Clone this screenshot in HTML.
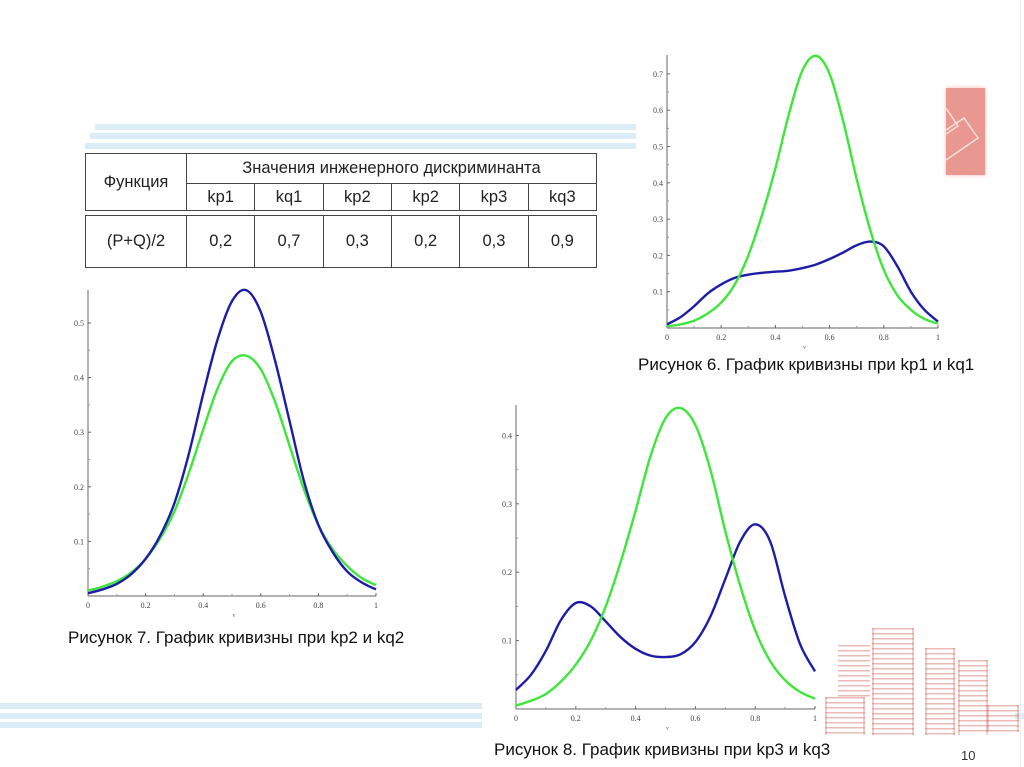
<!DOCTYPE html>
<html><head><meta charset="utf-8">
<style>
body{margin:0;width:1024px;height:767px;background:#fff;position:relative;overflow:hidden;font-family:"Liberation Sans",sans-serif;}
.abs{position:absolute;}
.stripe{position:absolute;height:6px;background:#dcecf7;}
table{position:absolute;left:85px;top:153px;width:512px;border-collapse:collapse;font-size:16.5px;color:#222;}
td{border:1.5px solid #444;text-align:center;padding:0;}
.cap{position:absolute;font-size:17px;color:#111;white-space:nowrap;}
.bld{position:absolute;background:repeating-linear-gradient(to bottom,rgba(214,120,110,.5) 0 1.5px,rgba(255,255,255,0) 1.5px 5px);border-left:2px solid rgba(214,110,100,.35);border-right:2px solid rgba(214,110,100,.35);}
</style></head><body>
<div class="stripe" style="left:95px;top:124px;width:541px"></div>
<div class="stripe" style="left:90px;top:133px;width:546px"></div>
<div class="stripe" style="left:85px;top:143px;width:551px"></div>
<div class="stripe" style="left:0;top:703px;width:482px"></div>
<div class="stripe" style="left:0;top:713px;width:482px"></div>
<div class="stripe" style="left:0;top:722px;width:482px"></div>
<div class="stripe" style="left:1015px;top:713px;width:9px"></div>
<div class="abs" style="left:946px;top:88px;width:39px;height:87px;background:#e89890;box-shadow:0 0 4px #f0b8b0;">
<svg width="39" height="87"><polyline points="0,20 12,38 0,46" fill="none" stroke="#fbe0da" stroke-width="1.5"/><polyline points="0,42 18,30 32,50 0,72" fill="none" stroke="#fbe0da" stroke-width="1.5"/></svg></div>
<div class="abs" style="left:1020px;top:0;width:1px;height:767px;background:#eee"></div>

<table>
<tr style="height:30px"><td rowspan="2" style="width:100px">Функция</td><td colspan="6">Значения инженерного дискриминанта</td></tr>
<tr style="height:27px"><td>kp1</td><td>kq1</td><td>kp2</td><td>kp2</td><td>kp3</td><td>kq3</td></tr>
<tr style="height:5px"><td colspan="7" style="border-left:none;border-right:none"></td></tr>
<tr style="height:52px"><td>(P+Q)/2</td><td>0,2</td><td>0,7</td><td>0,3</td><td>0,2</td><td>0,3</td><td>0,9</td></tr>
</table>

<svg id="charts" class="abs" style="left:0;top:0" width="1024" height="767"></svg>

<div class="cap" style="left:638px;top:355px">Рисунок 6. График кривизны при kp1 и kq1</div>
<div class="cap" style="left:68px;top:628px">Рисунок 7. График кривизны при kp2 и kq2</div>
<div class="cap" style="left:494px;top:740px">Рисунок 8. График кривизны при kp3 и kq3</div>
<div class="cap" style="left:961px;top:748px;font-size:13px;color:#333">10</div>

<div class="bld" style="left:825px;top:697px;width:36px;height:38px"></div>
<div class="bld" style="left:838px;top:645px;width:32px;height:52px;border:none"></div>
<div class="bld" style="left:872px;top:628px;width:38px;height:107px"></div>
<div class="bld" style="left:925px;top:648px;width:26px;height:87px"></div>
<div class="bld" style="left:958px;top:660px;width:26px;height:75px"></div>
<div class="bld" style="left:987px;top:705px;width:28px;height:27px"></div>

<script>
const xs = [0,.05,.1,.15,.2,.25,.3,.35,.4,.45,.5,.55,.6,.65,.7,.75,.8,.85,.9,.95,1];
const xTicks = [0,0.2,0.4,0.6,0.8,1];
const xTickLabels = ['0','0.2','0.4','0.6','0.8','1'];
const g6 = [.005,.01,.02,.04,.07,.12,.2,.31,.44,.59,.71,.75,.70,.57,.41,.27,.16,.09,.05,.025,.012];
const b6 = [.01,.03,.06,.095,.12,.138,.147,.152,.155,.158,.165,.175,.19,.208,.228,.238,.225,.17,.1,.05,.018];
const yTicks6 = [0.1,0.2,0.3,0.4,0.5,0.6,0.7];
const b7 = [.005,.012,.022,.04,.068,.11,.17,.26,.37,.47,.54,.56,.52,.43,.32,.21,.13,.08,.045,.025,.012];
const g7 = [.01,.017,.027,.043,.068,.105,.155,.225,.305,.38,.43,.44,.415,.355,.275,.195,.13,.085,.055,.033,.02];
const yTicks7 = [0.1,0.2,0.3,0.4,0.5];
const g8 = [.005,.012,.022,.04,.065,.1,.15,.215,.29,.37,.425,.44,.415,.35,.26,.18,.115,.07,.042,.025,.015];
const b8 = [.028,.05,.085,.13,.155,.15,.128,.105,.088,.078,.076,.08,.098,.135,.19,.245,.27,.245,.165,.095,.055];
const yTicks8 = [0.1,0.2,0.3,0.4];

const NS='http://www.w3.org/2000/svg';
const svg=document.getElementById('charts');
function mk(tag,attrs,parent){const e=document.createElementNS(NS,tag);for(const k in attrs)e.setAttribute(k,attrs[k]);(parent||svg).appendChild(e);return e;}

function chart(name,x0,x1,y0,per01,top,yTicks,series){
  const g=mk('g',{});
  
  
  const sx=v=>x0+(x1-x0)*v, sy=v=>y0-v*per01*10;
  const ya=mk('line',{x1:x0,y1:top,x2:x0,y2:y0,stroke:'#666','stroke-width':1},g);
  
  
  const xa=mk('line',{x1:x0,y1:y0,x2:x1,y2:y0,stroke:'#666','stroke-width':1},g);
  
  
  yTicks.forEach(t=>{
    mk('line',{x1:x0,y1:sy(t),x2:x0+3,y2:sy(t),stroke:'#666'},g);
    mk('line',{x1:x0,y1:sy(t-0.05),x2:x0+2,y2:sy(t-0.05),stroke:'#999'},g);
    const tx=mk('text',{x:x0-4,y:sy(t)+3,'font-size':8,'text-anchor':'end',fill:'#444','font-family':'Liberation Serif, serif'},g);
    tx.textContent=String(t);
    
    
  });
  xTicks.forEach((t,i)=>{
    mk('line',{x1:sx(t),y1:y0,x2:sx(t),y2:y0-3,stroke:'#666'},g);
    if(i<xTicks.length-1) mk('line',{x1:sx(t+0.1),y1:y0,x2:sx(t+0.1),y2:y0-2,stroke:'#999'},g);
    const tx=mk('text',{x:sx(t),y:y0+12,'font-size':8,'text-anchor':'middle',fill:'#444','font-family':'Liberation Serif, serif'},g);
    tx.textContent=xTickLabels[i];
    
    
  });
  const vl=mk('text',{x:(x0+x1)/2+2,y:y0+21,'font-size':6,'text-anchor':'middle',fill:'#666','font-family':'Liberation Serif, serif'},g);
  vl.textContent='v';
  
  
  series.forEach(([ys,col,nm])=>{
    const P=xs.map((x,i)=>[sx(x),sy(ys[i])]);
    let d='M'+P[0][0]+','+P[0][1];
    for(let i=0;i<P.length-1;i++){
      const p0=P[Math.max(0,i-1)],p1=P[i],p2=P[i+1],p3=P[Math.min(P.length-1,i+2)];
      d+=' C'+(p1[0]+(p2[0]-p0[0])/6)+','+(p1[1]+(p2[1]-p0[1])/6)+' '+(p2[0]-(p3[0]-p1[0])/6)+','+(p2[1]-(p3[1]-p1[1])/6)+' '+p2[0]+','+p2[1];
    }
    const path=mk('path',{d:d,fill:'none',stroke:col,'stroke-width':2.4},g);
    
    
  });
}
chart('chart-fig6',667,938,328,36.3,55,yTicks6,[[b6,'#1c1ca8','fig6-blue-curve'],[g6,'#3ee63a','fig6-green-curve']]);
chart('chart-fig7',88,376,596,54.6,290,yTicks7,[[g7,'#3ee63a','fig7-green-curve'],[b7,'#1c1ca8','fig7-blue-curve']]);
chart('chart-fig8',516,815,709,68.4,405,yTicks8,[[b8,'#1c1ca8','fig8-blue-curve'],[g8,'#3ee63a','fig8-green-curve']]);
</script>
</body></html>
